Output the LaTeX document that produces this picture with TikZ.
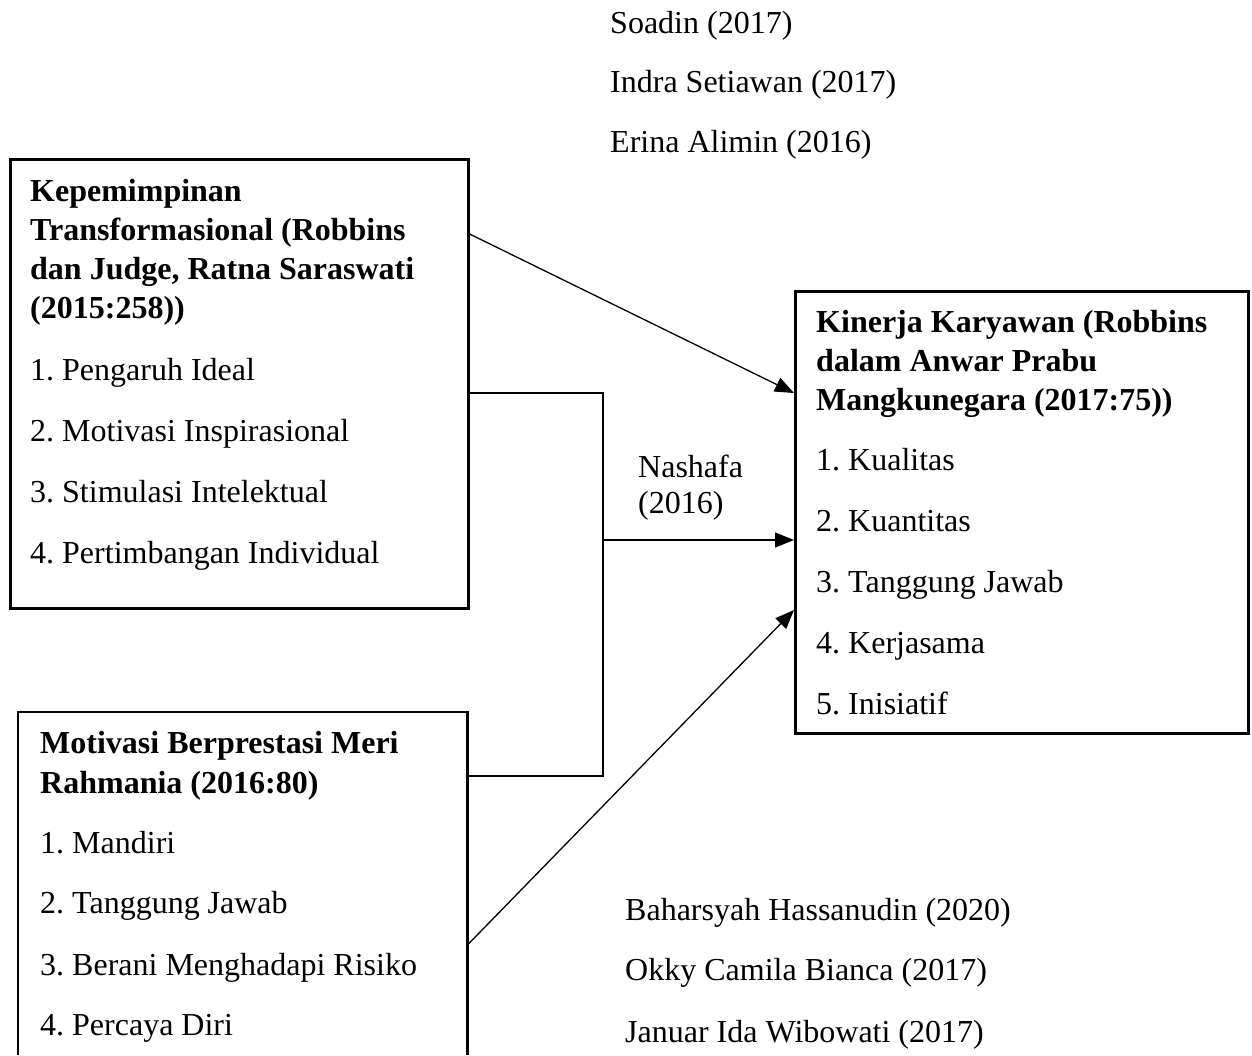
\documentclass[tikz,border=0pt]{standalone}
\usepackage{fontspec}
\setmainfont{Liberation Serif}
\usetikzlibrary{arrows.meta}
\frenchspacing
\begin{document}
\begin{tikzpicture}[x=1pt,y=-1pt,
  txt/.style={anchor=base west,inner sep=0pt,font=\fontsize{32}{38}\selectfont},
  hd/.style={txt,font=\fontsize{32}{38}\selectfont\bfseries},
  boxline/.style={line width=2.6pt,draw=black},
  conn/.style={line width=1.3pt,draw=black},
  arr/.style={conn,-{Triangle[length=19pt,width=15pt]}}]
\useasboundingbox (0,0) rectangle (1252,1055);
% boxes
\node[boxline,rectangle,anchor=north west,minimum width=458pt,minimum height=449pt,inner sep=0pt] (b1) at (9,158) {};
\node[boxline,rectangle,anchor=north west,minimum width=453pt,minimum height=442pt,inner sep=0pt] (b2) at (794,290) {};
\node[rectangle,anchor=north west,minimum width=449pt,minimum height=343pt,inner sep=0pt] (b3) at (18,712) {};
\draw[boxline] (b3.south west) -- (b3.north west) -- (b3.north east) -- (b3.south east);
% box 1 text
\node[hd] (h1a) at (30,201) {Kepemimpinan};
\node[hd] (h1b) at (30,240) {Transformasional (Robbins};
\node[hd] (h1c) at (30,279) {dan Judge, Ratna Saraswati};
\node[hd] (h1d) at (30,318) {(2015:258))};
\node[txt] (i1a) at (30,380) {1. Pengaruh Ideal};
\node[txt] (i1b) at (30,441) {2. Motivasi Inspirasional};
\node[txt] (i1c) at (30,502) {3. Stimulasi Intelektual};
\node[txt] (i1d) at (30,563) {4. Pertimbangan Individual};
% box 2 text
\node[hd] (h2a) at (816,332) {Kinerja Karyawan (Robbins};
\node[hd] (h2b) at (816,371) {dalam Anwar Prabu};
\node[hd] (h2c) at (816,410) {Mangkunegara (2017:75))};
\node[txt] (i2a) at (816,470) {1. Kualitas};
\node[txt] (i2b) at (816,531) {2. Kuantitas};
\node[txt] (i2c) at (816,592) {3. Tanggung Jawab};
\node[txt] (i2d) at (816,653) {4. Kerjasama};
\node[txt] (i2e) at (816,714) {5. Inisiatif};
% box 3 text
\node[hd] (h3a) at (40,753) {Motivasi Berprestasi Meri};
\node[hd] (h3b) at (40,793) {Rahmania (2016:80)};
\node[txt] (i3a) at (40,853) {1. Mandiri};
\node[txt] (i3b) at (40,913) {2. Tanggung Jawab};
\node[txt] (i3c) at (40,975) {3. Berani Menghadapi Risiko};
\node[txt] (i3d) at (40,1035) {4. Percaya Diri};
% references
\node[txt] (r1) at (610,33) {Soadin (2017)};
\node[txt] (r2) at (610,92) {Indra Setiawan (2017)};
\node[txt] (r3) at (610,152) {Erina Alimin (2016)};
\node[txt] (r4) at (625,920) {Baharsyah Hassanudin (2020)};
\node[txt] (r5) at (625,980) {Okky Camila Bianca (2017)};
\node[txt] (r6) at (625,1042) {Januar Ida Wibowati (2017)};
\node[txt] (n1) at (638,477) {Nashafa};
\node[txt] (n2) at (638,513) {(2016)};
% connectors
\coordinate (jn) at (603,540);
\draw[arr] (b1.east |- 0,234) -- (b2.west |- 0,393);
\draw[conn] (b1.east |- 0,393) -| (jn);
\draw[conn] (b3.east |- 0,776) -| (jn);
\draw[arr] (jn) -- (b2.west |- jn);
\draw[arr] (b3.east |- 0,945) -- (b2.west |- 0,610);
\end{tikzpicture}
\end{document}
